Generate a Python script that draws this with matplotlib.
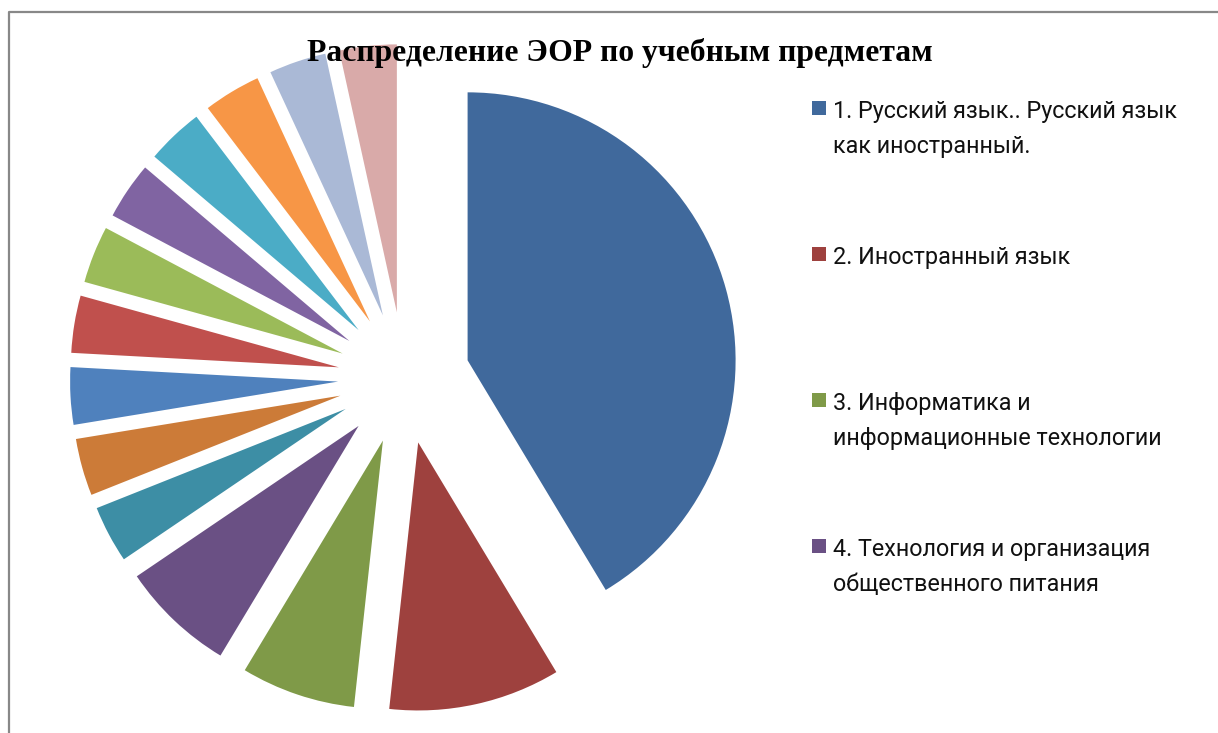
import matplotlib
matplotlib.use("Agg")
import matplotlib.pyplot as plt
from matplotlib.patches import Rectangle
from matplotlib.lines import Line2D

# Количество ЭОР по предметам (14 предметов, в легенде видны только первые 4)
counts = [12, 3, 2, 2, 1, 1, 1, 1, 1, 1, 1, 1, 1, 1]
colors = ["#40699C", "#9E413E", "#7F9A48", "#6A5084", "#3D8EA5", "#CC7B38",
          "#4F81BD", "#C0504D", "#9BBB59", "#8064A2", "#4BACC6", "#F79646",
          "#AAB9D6", "#D9AAA9"]
legend_labels = [
    ["1. Русский язык.. Русский язык", "как иностранный."],
    ["2. Иностранный язык"],
    ["3. Информатика и", "информационные технологии"],
    ["4. Технология и организация", "общественного питания"],
]
title = "Распределение ЭОР по учебным предметам"

W, H = 1218, 733
fig = plt.figure(figsize=(W / 100, H / 100), dpi=100)
ax = fig.add_axes([0, 0, 1, 1])

# пирог в пиксельных координатах (ось y вверх)
wedges, _ = ax.pie(counts, colors=colors, startangle=90, counterclock=False,
                   radius=268, center=(404, H - 378),
                   explode=[66] * len(counts))
ax.set_xlim(0, W)
ax.set_ylim(0, H)
ax.set_aspect("equal")
ax.axis("off")

# рамка области диаграммы (видны только левая и верхняя стороны)
ax.add_line(Line2D([9, 9, W], [0, H - 12, H - 12], color="#888888", lw=1.6))

ax.text(620, H - 53, title, ha="center", va="center", fontsize=22.8,
        fontweight="bold", family=["Liberation Serif", "DejaVu Serif"])

# легенда: каждый пункт на своём шаге по вертикали, строки через 35 px
for i, lines in enumerate(legend_labels):
    yc = H - (109 + i * 146)
    ax.add_patch(Rectangle((812, yc - 6), 14, 14, color=colors[i], lw=0))
    for k, line in enumerate(lines):
        ax.text(833, yc - k * 35, line, ha="left", va="center_baseline",
                fontsize=16.8, color="#111111",
                family=["Roboto", "DejaVu Sans"])

fig.savefig("out.png", dpi=100, facecolor="white")
